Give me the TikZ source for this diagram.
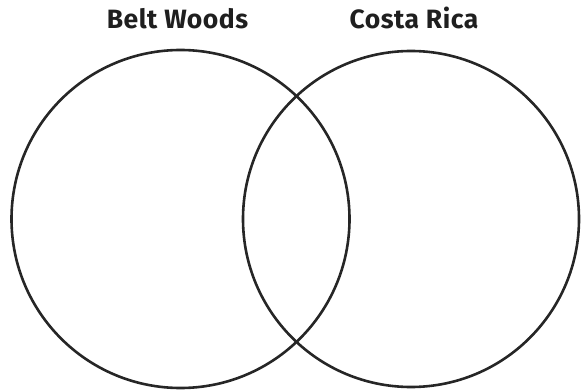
\documentclass[tikz,border=0pt]{standalone}
\usepackage{fontspec}
\setmainfont{Fira Sans}[LetterSpace=2]
\begin{document}
\begin{tikzpicture}[x=1pt,y=-1pt,
  ring/.style={draw=black!85,line width=2.6pt},
  title/.style={font=\fontsize{26.5}{30}\selectfont\bfseries,text=black!88,inner sep=0pt,anchor=base}]
\useasboundingbox (0,0) rectangle (581,390);
\node[ring,circle,minimum size=338,inner sep=0pt] (bw) at (180.5,219) {};
\node[ring,circle,minimum size=336,inner sep=0pt] (cr) at (411,219) {};
\node[title] (tbw) at (177.5,29) {Belt Woods};
\node[title] (tcr) at (414,29) {Costa Rica};
\end{tikzpicture}
\end{document}
